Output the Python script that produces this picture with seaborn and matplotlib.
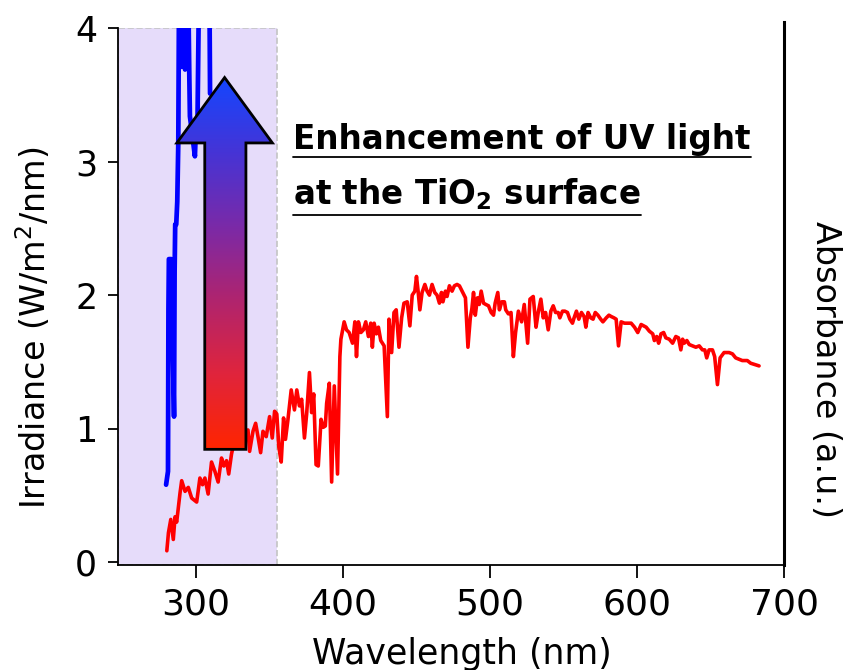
import matplotlib
matplotlib.use("Agg")
import matplotlib.pyplot as plt
import seaborn as sns
import numpy as np
import pandas as pd
from matplotlib.colors import LinearSegmentedColormap
from matplotlib.patches import Polygon
from matplotlib.lines import Line2D

# solar irradiance (red)
red_wl = [280.2, 281.3, 282.9, 284.6, 285.8, 286.9, 289.2, 290.3, 292.6, 294.8,
          297.1, 300.5, 302.7, 304.5, 306.1, 308.3, 310.6, 312.9, 315.1, 317.4,
          319.0, 320.8, 322.3, 324.2, 326.4, 329.0, 332.0, 335.4, 336.5, 338.8,
          340.6, 342.2, 344.0, 345.6, 347.8, 350.1, 351.9, 353.5, 355.0, 356.4,
          358.0, 359.6, 360.9, 362.5, 364.8, 367.0, 368.6, 370.4, 371.9, 373.8,
          375.3, 377.2, 378.7, 380.1, 381.7, 383.2, 385.1, 386.6, 388.0, 388.9,
          390.7, 392.3, 394.1, 396.3, 397.9, 398.6, 400.8, 402.4, 404.2, 406.5,
          408.1, 409.2, 410.5, 412.2, 413.9, 415.5, 417.3, 418.9, 420.0, 421.2,
          422.7, 424.1, 425.7, 428.0, 430.2, 431.3, 433.1, 434.7, 436.2, 438.1,
          439.9, 441.5, 443.7, 445.5, 447.1, 448.9, 450.0, 451.1, 452.3, 453.8,
          455.7, 457.2, 458.8, 460.6, 462.4, 464.0, 465.6, 467.0, 468.0, 469.7,
          470.8, 472.4, 474.2, 475.8, 477.6, 479.2, 481.0, 483.3, 485.0, 486.6,
          487.7, 488.8, 490.0, 491.5, 492.7, 494.0, 495.6, 497.2, 499.0, 500.8,
          502.4, 503.5, 505.3, 506.4, 508.0, 509.8, 510.7, 512.5, 514.3, 515.9,
          517.4, 519.3, 521.5, 523.3, 525.6, 527.2, 529.4, 531.3, 532.8, 534.6,
          536.2, 537.8, 539.6, 541.4, 543.0, 544.6, 546.4, 547.5, 549.3, 550.9,
          552.7, 554.3, 556.1, 557.2, 558.8, 560.4, 562.2, 564.0, 565.2, 566.7,
          568.5, 570.1, 571.6, 573.4, 575.3, 576.8, 579.1, 580.9, 582.4, 584.3,
          585.8, 587.4, 589.2, 591.5, 593.7, 596.0, 598.3, 600.5, 602.8, 606.2,
          608.4, 610.7, 611.8, 613.4, 614.7, 616.3, 618.1, 619.6, 621.9, 624.2,
          626.4, 628.2, 629.8, 631.0, 632.1, 633.9, 635.5, 637.7, 640.0, 642.3,
          644.5, 646.1, 647.4, 649.0, 651.3, 652.8, 654.7, 656.5, 659.2, 662.6,
          664.9, 667.1, 669.4, 671.6, 675.0, 677.3, 680.2, 683.0]
red_irr = [0.085, 0.22, 0.32, 0.17, 0.34, 0.30, 0.52, 0.61, 0.53, 0.56,
           0.48, 0.45, 0.63, 0.58, 0.63, 0.51, 0.75, 0.68, 0.60, 0.78,
           0.72, 0.76, 0.66, 0.81, 0.92, 0.88, 0.98, 0.99, 0.83, 0.98,
           1.04, 0.94, 0.82, 0.98, 0.94, 1.09, 0.93, 1.13, 1.11, 0.86,
           0.75, 1.08, 0.92, 1.06, 1.29, 1.14, 1.29, 1.17, 1.22, 0.93,
           1.11, 1.42, 1.12, 1.26, 0.73, 0.72, 1.07, 1.01, 1.02, 1.19,
           1.34, 0.60, 1.32, 0.66, 1.54, 1.67, 1.80, 1.74, 1.72, 1.64,
           1.80, 1.54, 1.80, 1.72, 1.74, 1.80, 1.69, 1.79, 1.61, 1.79,
           1.71, 1.76, 1.66, 1.62, 1.09, 1.82, 1.57, 1.87, 1.89, 1.61,
           1.83, 1.94, 1.95, 1.77, 2.00, 2.03, 2.14, 2.03, 1.89, 2.02,
           2.08, 2.03, 2.00, 2.08, 2.02, 2.00, 1.94, 2.02, 1.95, 2.03,
           1.99, 2.07, 2.03, 2.07, 2.08, 2.07, 2.03, 1.98, 1.61, 1.83,
           1.90, 2.02, 1.85, 1.98, 1.93, 2.03, 1.94, 1.93, 1.92, 1.87,
           1.85, 1.94, 2.02, 1.89, 1.95, 1.95, 1.89, 1.86, 1.87, 1.54,
           1.72, 1.88, 1.80, 1.93, 1.64, 1.97, 1.99, 1.76, 1.87, 1.97,
           1.83, 1.87, 1.74, 1.88, 1.92, 1.87, 1.87, 1.83, 1.88, 1.88,
           1.87, 1.82, 1.79, 1.83, 1.88, 1.82, 1.87, 1.84, 1.76, 1.87,
           1.83, 1.82, 1.87, 1.85, 1.82, 1.80, 1.83, 1.85, 1.84, 1.83,
           1.82, 1.62, 1.80, 1.79, 1.79, 1.79, 1.76, 1.72, 1.78, 1.76,
           1.73, 1.71, 1.66, 1.69, 1.64, 1.71, 1.72, 1.68, 1.67, 1.64,
           1.69, 1.68, 1.59, 1.67, 1.64, 1.66, 1.63, 1.62, 1.61, 1.62,
           1.59, 1.59, 1.53, 1.59, 1.59, 1.54, 1.33, 1.53, 1.57, 1.57,
           1.56, 1.53, 1.52, 1.51, 1.51, 1.49, 1.48, 1.47]

# enhanced UV near the TiO2 surface (blue), runs off the top of the axes
blue_wl = [279.7, 281.0, 281.3, 281.6, 282.5, 283.2, 285.1, 285.5, 285.9, 286.6,
           287.3, 288.0, 288.6, 289.6, 290.3, 291.0, 292.0, 292.6, 293.5, 294.5,
           295.5, 295.9, 297.5, 299.3, 300.2, 301.0, 302.3, 305.0, 307.0, 309.0,
           309.6]
blue_irr = [0.58, 0.68, 1.90, 2.27, 2.27, 2.27, 1.09, 2.18, 2.53, 2.53,
            2.70, 3.14, 4.5, 4.5, 3.71, 3.80, 4.5, 3.69, 3.70, 4.5,
            3.64, 3.34, 3.20, 3.04, 3.30, 3.25, 4.5, 4.6, 4.5, 4.6,
            3.51]

x_ticks = [300, 400, 500, 600, 700]
y_ticks = [0, 1, 2, 3, 4]
uv_band = (247, 355)

sns.set_theme(style="ticks")
plt.rcParams["font.family"] = ["DejaVu Sans"]
plt.rcParams["mathtext.default"] = "regular"
plt.rcParams["text.color"] = "black"
plt.rcParams["axes.labelcolor"] = "black"

fig = plt.figure(figsize=(8.49, 6.70), dpi=100)
ax = fig.add_axes([0.139, 0.157, 0.7845, 0.801])

ax.axvspan(uv_band[0], uv_band[1], facecolor="#e6dcfa", edgecolor="#c4c4c4",
           linestyle="--", linewidth=1.2, zorder=0)

red = pd.DataFrame({"wl": red_wl, "irr": red_irr})
blue = pd.DataFrame({"wl": blue_wl, "irr": blue_irr})
sns.lineplot(data=red, x="wl", y="irr", color="#ff0000", linewidth=2.6,
             sort=False, estimator=None, ax=ax, zorder=3)
sns.lineplot(data=blue, x="wl", y="irr", color="#0000ff", linewidth=3.4,
             sort=False, estimator=None, ax=ax, zorder=3)

ax.set_xlim(247, 700)
ax.set_ylim(-0.02, 4)
ax.set_xticks(x_ticks)
ax.set_yticks(y_ticks)
ax.tick_params(axis="x", direction="out", length=9, width=1.3, pad=7,
               labelsize=26, colors="black")
ax.tick_params(axis="y", direction="out", length=7, width=1.3, pad=8,
               labelsize=25, colors="black")
ax.set_xlabel("Wavelength (nm)", fontsize=25)
ax.xaxis.set_label_coords(0.517, -0.135)
ax.set_ylabel("Irradiance (W/m$^2$/nm)", fontsize=24)
ax.yaxis.set_label_coords(-0.127, 0.442)
ax.yaxis.label.set_va("center")
ax.spines["top"].set_visible(False)
ax.spines["right"].set_visible(False)
for s in ["left", "bottom"]:
    ax.spines[s].set_linewidth(1.3)
    ax.spines[s].set_color("black")

ax2 = ax.twinx()
ax2.set_yticks([])
ax2.set_ylabel("Absorbance (a.u.)", fontsize=24, rotation=-90)
ax2.yaxis.set_label_coords(1.062, 0.363)
ax2.yaxis.label.set_va("center")
for s in ["left", "top", "bottom"]:
    ax2.spines[s].set_visible(False)
ax2.spines["right"].set_linewidth(2.2)
ax2.spines["right"].set_color("black")
ax2.spines["right"].set_bounds(0, 1.012)

# gradient arrow (blue tip -> red tail)
shaft_x = (306, 334)
head_x = (287, 352)
tail_y, head_y, tip_y = 0.845, 3.14, 3.63
tip_x = (head_x[0] + head_x[1]) / 2
verts = [(shaft_x[0], tail_y), (shaft_x[1], tail_y), (shaft_x[1], head_y),
         (head_x[1], head_y), (tip_x, tip_y), (head_x[0], head_y),
         (shaft_x[0], head_y)]
arrow = Polygon(verts, closed=True, facecolor="none", edgecolor="black",
                linewidth=2.0, zorder=6)
ax.add_patch(arrow)
cmap = LinearSegmentedColormap.from_list(
    "uv", ["#ff2400", "#e0253c", "#b0246e", "#7a2aa8", "#4534d6", "#1446ff"])
grad = np.linspace(0, 1, 256).reshape(-1, 1)
img = ax.imshow(grad, cmap=cmap, origin="lower", aspect="auto",
                extent=[head_x[0], head_x[1], tail_y, tip_y], zorder=5)
img.set_clip_path(arrow)

t1 = ax.text(0.2628, 0.775, "Enhancement of UV light", transform=ax.transAxes,
             fontsize=23.5, fontweight="bold", ha="left", va="baseline", zorder=7)
t2 = ax.text(0.2628, 0.672, r"at the TiO$_\mathbf{2}$ surface",
             transform=ax.transAxes, fontsize=23.5, fontweight="bold",
             ha="left", va="baseline", zorder=7)

# underline each line of the note
fig.canvas.draw()
r = fig.canvas.get_renderer()
inv = fig.transFigure.inverted()
for t, drop in [(t1, 8), (t2, 11)]:
    bb = t.get_window_extent(r)
    base = ax.transAxes.transform(t.get_position())[1]
    (x0, y0) = inv.transform((bb.x0, base - drop))
    (x1, _) = inv.transform((bb.x1, base - drop))
    fig.add_artist(Line2D([x0, x1], [y0, y0], color="black", linewidth=1.3,
                          transform=fig.transFigure))

fig.savefig("out.png", dpi=100)
